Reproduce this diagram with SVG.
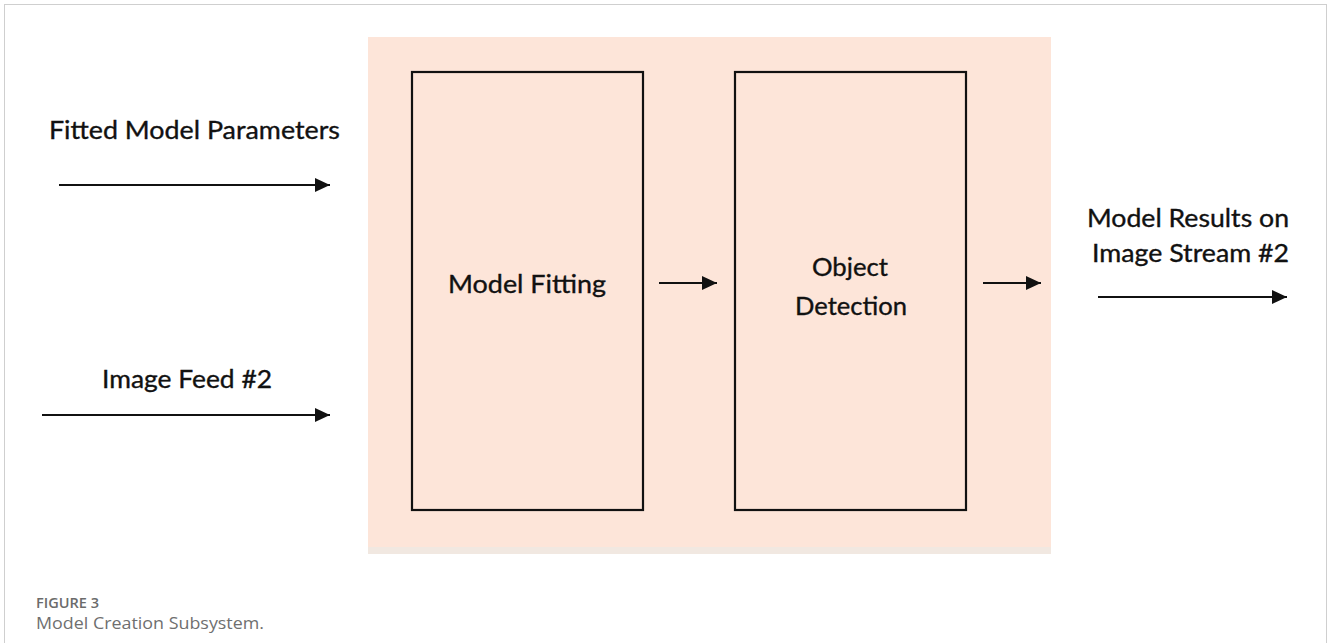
<svg xmlns="http://www.w3.org/2000/svg" width="1328" height="643" viewBox="0 0 1328 643">
  <style>
    .lbl { font-family: Lato, "Open Sans", "Liberation Sans", sans-serif; font-size: 25px; fill: #111; stroke: #111; stroke-width: 0.35; }
    .box { fill: none; stroke: #111; stroke-width: 2.2; }
    .wire { stroke: #111; stroke-width: 2; fill: none; }
    .capHead { font-family: "Open Sans", Lato, "Liberation Sans", sans-serif; font-size: 14px; font-weight: 600; fill: #6b6b6b; }
    .capText { font-family: "Open Sans", Lato, "Liberation Sans", sans-serif; font-size: 17px; fill: #6f6f6f; }
  </style>
  <defs>
    <marker id="head" markerUnits="userSpaceOnUse" markerWidth="16" markerHeight="14" refX="15" refY="7" orient="auto">
      <path d="M0,0 L15,7 L0,14 z" fill="#111"/>
    </marker>
  </defs>

  <rect width="1328" height="643" fill="#fff"/>
  <!-- figure frame -->
  <rect x="4.5" y="4.5" width="1322" height="660" fill="none" stroke="#cfcfcf" stroke-width="1"/>

  <!-- subsystem panel -->
  <g id="panel">
    <rect x="368" y="37" width="683" height="517" fill="#fde5d9"/>
    <rect x="368" y="547" width="683" height="7" fill="#f1e8e1"/>
  </g>

  <g id="model-fitting">
    <rect class="box" x="412" y="72" width="231" height="438"/>
    <text class="lbl" x="527" y="293" text-anchor="middle" textLength="158" lengthAdjust="spacingAndGlyphs">Model Fitting</text>
  </g>

  <g id="object-detection">
    <rect class="box" x="735" y="72" width="231" height="438"/>
    <text class="lbl" x="850" y="276" text-anchor="middle" textLength="76" lengthAdjust="spacingAndGlyphs">Object</text>
    <text class="lbl" x="851" y="315" text-anchor="middle" textLength="112" lengthAdjust="spacingAndGlyphs">Detection</text>
  </g>

  <g id="input-parameters">
    <text class="lbl" x="49" y="139" textLength="291" lengthAdjust="spacingAndGlyphs">Fitted Model Parameters</text>
  </g>

  <g id="input-feed">
    <text class="lbl" x="102" y="388" textLength="170" lengthAdjust="spacingAndGlyphs">Image Feed #2</text>
  </g>

  <g id="output-results">
    <text class="lbl" x="1188" y="227" text-anchor="middle" textLength="202" lengthAdjust="spacingAndGlyphs">Model Results on</text>
    <text class="lbl" x="1190.5" y="262" text-anchor="middle" textLength="197" lengthAdjust="spacingAndGlyphs">Image Stream #2</text>
  </g>

  <g id="connectors">
    <line class="wire" x1="59" y1="185" x2="330" y2="185" marker-end="url(#head)"/>
    <line class="wire" x1="42" y1="415" x2="330" y2="415" marker-end="url(#head)"/>
    <line class="wire" x1="659" y1="283" x2="717" y2="283" marker-end="url(#head)"/>
    <line class="wire" x1="983" y1="283" x2="1041" y2="283" marker-end="url(#head)"/>
    <line class="wire" x1="1098" y1="297" x2="1287" y2="297" marker-end="url(#head)"/>
  </g>

  <g id="caption">
    <text class="capHead" x="36" y="608" textLength="63" lengthAdjust="spacingAndGlyphs">FIGURE 3</text>
    <text class="capText" x="36" y="629" textLength="228" lengthAdjust="spacingAndGlyphs">Model Creation Subsystem.</text>
  </g>
</svg>
